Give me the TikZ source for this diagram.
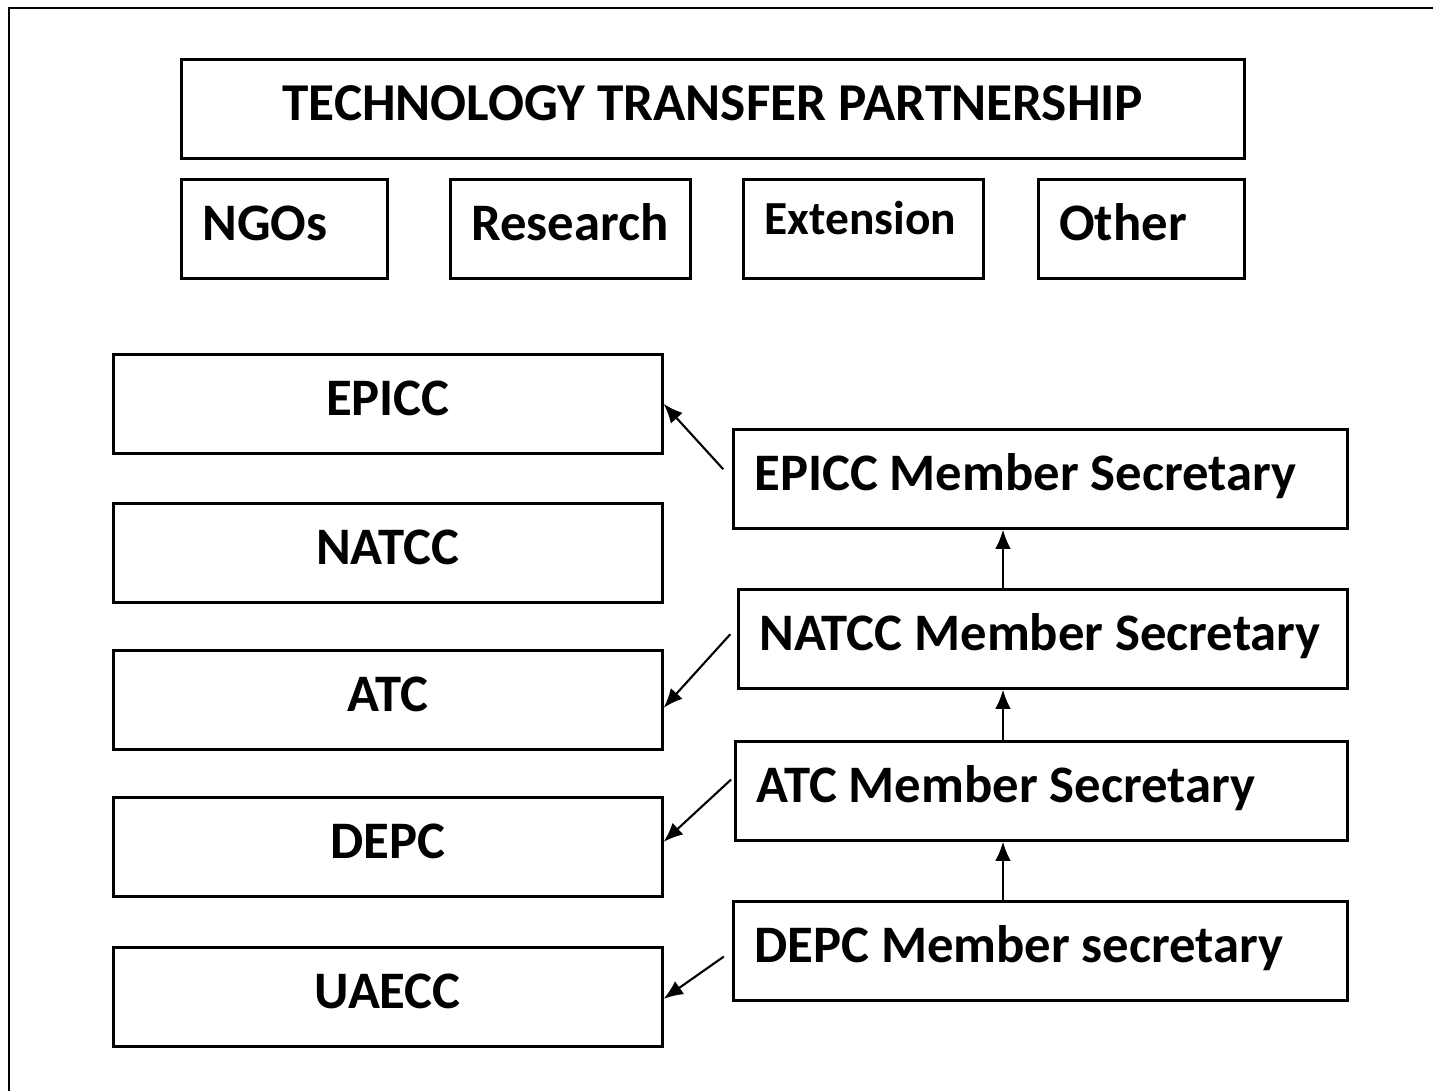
\documentclass[tikz,border=0pt]{standalone}
\usepackage{fontspec}
\setmainfont{Carlito}
\usetikzlibrary{arrows.meta}
\newcommand{\px}{0.02cm}
\begin{document}
\begin{tikzpicture}[
		x=0.02cm, y=-0.02cm,
		box/.style={draw, line width=1.5pt, anchor=north west, inner sep=0pt,
			minimum height=99*\px, text height=20pt, text depth=7pt,
			font=\bfseries\fontsize{30}{36}\selectfont},
		leftbox/.style={box, minimum width=549*\px},
		padbox/.style={box, text width=#1*\px-42*\px, inner xsep=21*\px, align=flush left},
		arr/.style={-{Latex[length=11pt, width=9pt]}, line width=1.2pt}
		]
		\useasboundingbox (0,0) rectangle (1433,1090);
		
		% outer frame
		\draw[line width=1.5pt] (9,1095) -- (9,8) -- (1440,8);
		
		% ---------------------------------------------------------
		% Partnership header and partners
		% ---------------------------------------------------------
		\node[box, minimum width=1063*\px, font=\bfseries\fontsize{30.3}{36}\selectfont] (ttp) at (180,58) {TECHNOLOGY TRANSFER PARTNERSHIP};
		\node[padbox=206] (ngo) at (180,178) {NGOs};
		\node[padbox=240] (res) at (449,178) {Research};
		\node[padbox=240, font=\bfseries\fontsize{27}{32}\selectfont, text height=15pt, text depth=9pt] (ext) at (742,178) {Extension};
		\node[padbox=206] (oth) at (1037,178) {Other};
		
		% ---------------------------------------------------------
		% Committees (left column)
		% ---------------------------------------------------------
		\foreach \name/\y/\txt in {epicc/353/EPICC, natcc/502/NATCC, atc/649/ATC, depc/796/DEPC, uaecc/946/UAECC} {
			\node[leftbox] (\name) at (112,\y) {\txt};
		}
		
		% ---------------------------------------------------------
		% Member secretaries (right column)
		% ---------------------------------------------------------
		\node[padbox=614] (epms) at (732,428) {EPICC Member Secretary};
		\node[padbox=609] (natms) at (737,588) {NATCC Member Secretary};
		\node[padbox=612] (atcms) at (734,740) {ATC Member Secretary};
		\node[padbox=614] (depms) at (732,900) {DEPC Member secretary};
		
		% Arrows
		\coordinate (axis) at (1003,0);
		\draw[arr] (natms.north -| axis) -- (epms.south -| axis);
		\draw[arr] (atcms.north -| axis) -- (natms.south -| axis);
		\draw[arr] (depms.north -| axis) -- (atcms.south -| axis);
		
		\draw[arr, shorten <=13*\px] (epms.west) -- (epicc.east);
		\draw[arr, shorten <=10*\px] ([yshift=12*\px]natms.west) -- ([yshift=-8*\px]atc.east);
		\draw[arr, shorten <=4*\px] ([yshift=14*\px]atcms.west) -- ([yshift=5*\px]depc.east);
		\draw[arr, shorten <=10*\px] (depms.west) -- ([yshift=-2*\px]uaecc.east);
		
	\end{tikzpicture}
\end{document}
